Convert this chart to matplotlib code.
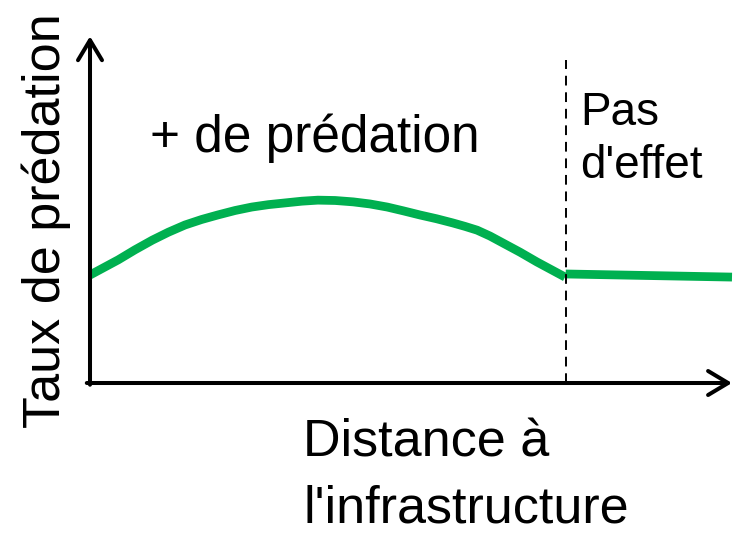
import matplotlib
matplotlib.use("Agg")
import matplotlib.pyplot as plt

plt.rcParams['font.family'] = ['Liberation Sans', 'DejaVu Sans']

# courbe : distance (0-10) et taux de prédation (0-10), unités arbitraires
distance = [0.0, 0.22, 0.44, 0.70, 0.97, 1.22, 1.48, 1.74, 1.99, 2.26, 2.52,
            2.78, 3.04, 3.30, 3.55, 3.82, 4.10, 4.36, 4.63, 4.88, 5.14,
            5.40, 5.65, 5.84, 6.03, 6.23, 6.43, 6.70, 6.96, 7.18, 7.40]
taux = [3.13, 3.35, 3.57, 3.86, 4.14, 4.37, 4.58, 4.74, 4.87, 5.00, 5.10,
        5.17, 5.22, 5.27, 5.30, 5.29, 5.25, 5.19, 5.10, 4.99, 4.87,
        4.76, 4.64, 4.54, 4.43, 4.26, 4.06, 3.79, 3.51, 3.29, 3.07]

# zone sans effet
distance_plat = [7.41, 10.0]
taux_plat = [3.16, 3.07]

limite = 7.41
vert = "#00B050"

fig = plt.figure(figsize=(7.44, 5.34), dpi=100)
ax = fig.add_axes([90 / 744, 151 / 534, 642 / 744, 345 / 534])
ax.set_xlim(0, 10)
ax.set_ylim(0, 10)
ax.axis("off")

# axes avec flèches
fleche = dict(arrowstyle="->,head_length=0.4,head_width=0.24", lw=2.9,
              color="black", mutation_scale=36, shrinkA=0, shrinkB=0)
ax.annotate("", xy=(0.0, 1.005), xytext=(0.0, -0.005), xycoords="axes fraction",
            arrowprops=fleche, annotation_clip=False)
ax.annotate("", xy=(1.0, 0.0), xytext=(-0.005, 0.0), xycoords="axes fraction",
            arrowprops=fleche, annotation_clip=False)

# courbe
ax.plot(distance, taux, color=vert, lw=6.3, solid_capstyle="butt",
        solid_joinstyle="round", clip_on=False)
ax.plot(distance_plat, taux_plat, color=vert, lw=6.3, solid_capstyle="butt", clip_on=False)

# limite en pointillés
ax.plot([limite, limite], [0, 9.36], color="black", lw=1.4, ls=(0, (5, 3.5)))

# textes
ax.text(0.93, 6.70, "+ de prédation", fontsize=37, va="baseline", ha="left")
ax.text(7.63, 7.48, "Pas", fontsize=33, va="baseline", ha="left")
ax.text(7.63, 5.94, "d'effet", fontsize=33, va="baseline", ha="left")
ax.text(3.32, -2.14, "Distance à", fontsize=37.5, va="baseline", ha="left")
ax.text(3.32, -4.03, "l'infrastructure", fontsize=37.5, va="baseline", ha="left")
ax.text(-0.47, 4.70, "Taux de prédation", fontsize=37.5, rotation=90,
        rotation_mode="anchor", ha="center", va="baseline")

fig.savefig("out.png", dpi=100)
